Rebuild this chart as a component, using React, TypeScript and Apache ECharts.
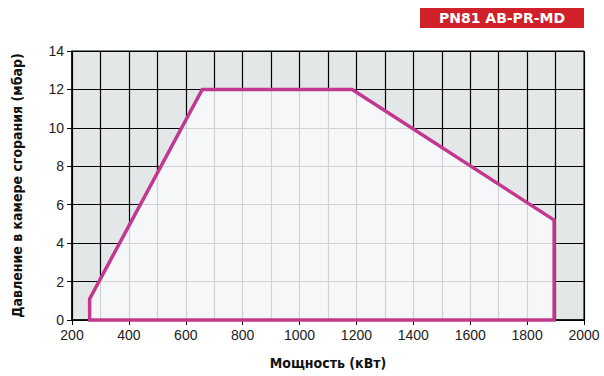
import React, { useEffect, useRef } from "react";
import * as echarts from "echarts";

const xTicks = [200, 400, 600, 800, 1000, 1200, 1400, 1600, 1800, 2000];
const yTicks = [0, 2, 4, 6, 8, 10, 12, 14];
const envelopeX = [262, 262, 658, 1185, 1895, 1895];
const envelopeY = [0, 1.1, 12, 12, 5.2, 0];
const badgeText = "PN81 AB-PR-MD";
const xName = "Мощность (кВт)";
const yName = "Давление в камере сгорания (мбар)";

export default function App() {
  const ref = useRef<HTMLDivElement>(null);
  useEffect(() => {
    if (!ref.current) return;
    const chart = echarts.init(ref.current, null, { renderer: "svg" });
    const pts = envelopeX.map((x, i) => [x, envelopeY[i]]);
    const labelFont = "'Liberation Sans', Arial, sans-serif";
    chart.setOption({
      animation: false,
      grid: {
        left: 72,
        right: 20,
        top: 51,
        bottom: 56,
        show: true,
        backgroundColor: "#e4e7e8",
        borderColor: "#000",
        borderWidth: 1,
      },
      xAxis: [
        {
          type: "value",
          min: xTicks[0],
          max: xTicks[xTicks.length - 1],
          interval: 200,
          axisLine: { show: true, onZero: false, lineStyle: { color: "#000", width: 1.5 } },
          axisTick: { show: true, length: 5, lineStyle: { color: "#000" } },
          axisLabel: {
            fontSize: 14,
            color: "#222",
            fontFamily: labelFont,
            margin: 8,
            formatter: (v: number) => String(v),
          },
          splitLine: { show: false },
          name: xName,
          nameLocation: "middle",
          nameGap: 36,
          nameTextStyle: {
            fontSize: 14,
            fontWeight: "bold",
            color: "#111",
            fontFamily: "'DejaVu Sans Condensed', 'DejaVu Sans', sans-serif",
          },
        },
        {
          type: "value",
          min: 200,
          max: 2000,
          interval: 100,
          position: "bottom",
          axisLine: { show: false },
          axisTick: { show: false },
          axisLabel: { show: false },
          splitLine: { show: true, lineStyle: { color: "#000", width: 1.2 } },
        },
      ],
      yAxis: {
        type: "value",
        min: yTicks[0],
        max: yTicks[yTicks.length - 1],
        interval: 2,
        axisLine: { show: true, lineStyle: { color: "#000", width: 1.5 } },
        axisTick: { show: true, length: 5, lineStyle: { color: "#000" } },
        axisLabel: {
          fontSize: 14,
          color: "#222",
          fontFamily: labelFont,
          margin: 8,
          formatter: (v: number) => String(v),
        },
        splitLine: { show: true, lineStyle: { color: "#000", width: 1.2 } },
        name: yName,
        nameLocation: "middle",
        nameGap: 48,
        nameTextStyle: {
          fontSize: 14,
          fontWeight: "bold",
          color: "#111",
          fontFamily: "'DejaVu Sans Condensed', 'DejaVu Sans', sans-serif",
        },
      },
      graphic: [
        {
          type: "rect",
          shape: { x: 420, y: 8, width: 164, height: 20 },
          style: { fill: "#d0202a" },
        },
        {
          type: "text",
          x: 502,
          y: 18,
          style: {
            text: badgeText,
            fill: "#fff",
            fontSize: 14,
            fontWeight: "bold",
            fontFamily: "'DejaVu Sans', sans-serif",
            align: "center",
            verticalAlign: "middle",
          },
        },
      ],
      series: [
        {
          type: "custom",
          xAxisIndex: 0,
          yAxisIndex: 0,
          data: pts,
          renderItem: (params: any, api: any) => {
            if (params.dataIndex !== 0) return null;
            const points = pts.map((p) => api.coord(p));
            return {
              type: "polygon",
              shape: { points },
              style: {
                fill: "rgba(249,250,252,0.84)",
                stroke: "#c2388f",
                lineWidth: 3.5,
                lineJoin: "miter",
              },
            };
          },
        },
      ],
    });
    return () => chart.dispose();
  }, []);
  return <div ref={ref} style={{ width: 604, height: 376, position: "absolute", left: 0, top: 0 }} />;
}
